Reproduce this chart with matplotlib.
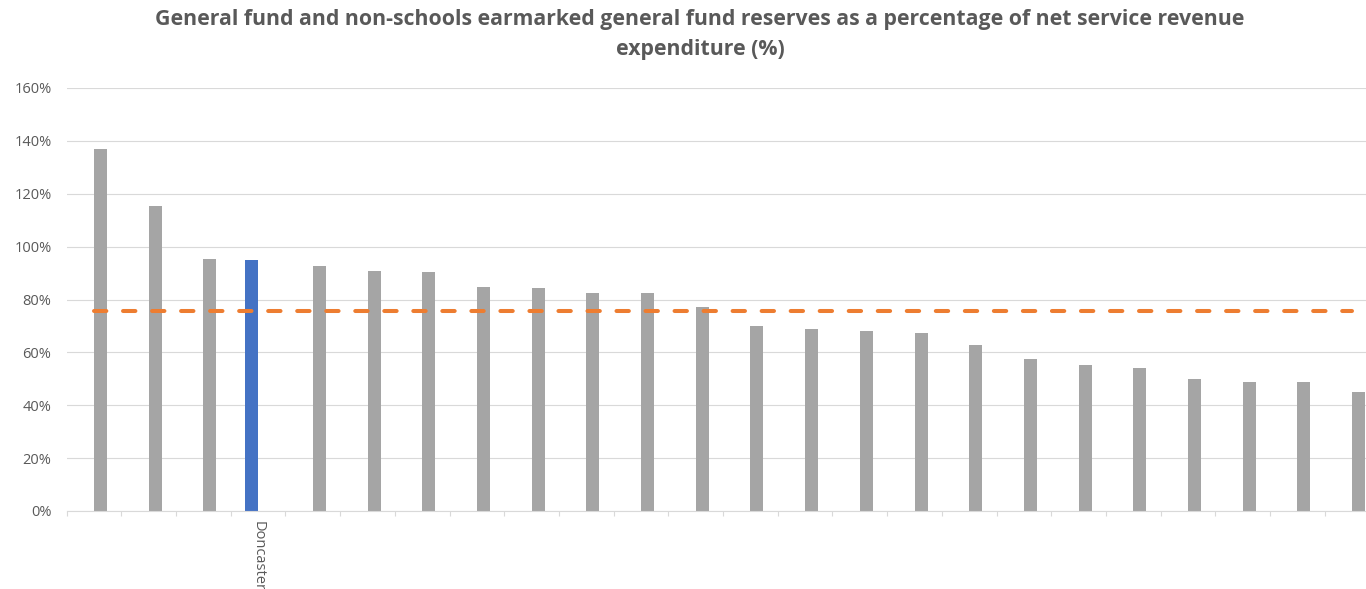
import matplotlib
matplotlib.use("Agg")
import matplotlib.pyplot as plt
import numpy as np

plt.rcParams['lines.scale_dashes'] = False

categories = ["", "", "", "Doncaster", "", "", "", "", "", "", "", "",
              "", "", "", "", "", "", "", "", "", "", "", ""]
other_councils = [137.0, 115.3, 95.4, 0, 92.7, 90.9, 90.3, 84.8, 84.2, 82.6, 82.6, 77.0,
                  70.0, 68.7, 68.2, 67.2, 62.8, 57.4, 55.1, 54.0, 50.0, 48.9, 48.9, 45.0]
doncaster = [0, 0, 0, 94.8, 0, 0, 0, 0, 0, 0, 0, 0,
             0, 0, 0, 0, 0, 0, 0, 0, 0, 0, 0, 0]
average = [75.6] * 24
yticks = [0, 20, 40, 60, 80, 100, 120, 140, 160]
title_lines = ["General fund and non-schools earmarked general fund reserves as a percentage of net service revenue",
               "expenditure (%)"]

W, H = 1366, 589
fig = plt.figure(figsize=(W / 100, H / 100), dpi=100)
left, right, bottom, top = 66.7, 1379.5, 511, 88
ax = fig.add_axes([left / W, 1 - bottom / H, (right - left) / W, (bottom - top) / H])

x = np.arange(len(categories))
bw = 0.238
off = 0.119
ax.bar(x + off, other_councils, width=bw, color='#A5A5A5', zorder=2)
ax.bar(x - off, doncaster, width=bw, color='#4472C4', zorder=2)
ln, = ax.plot(x, average, color='#ED7D31', lw=2.9, solid_capstyle='round',
              dash_capstyle='round', zorder=3)
ln.set_dashes((8.9, 12.0))

ax.set_xlim(-0.5, len(categories) - 0.5)
ax.set_ylim(0, 160)
ax.set_yticks(yticks)
ax.set_yticklabels([f"{v}%" for v in yticks])
ax.yaxis.grid(True, color='#D9D9D9', lw=0.8, zorder=0)
ax.set_axisbelow(True)
for s in ['top', 'right', 'left']:
    ax.spines[s].set_visible(False)
ax.spines['bottom'].set_color('#D9D9D9')
ax.spines['bottom'].set_linewidth(0.8)
ax.tick_params(axis='y', length=0, pad=11, labelsize=10.5, labelcolor='#595959')
for t in ax.get_yticklabels():
    t.set_fontfamily('Open Sans')

ax.set_xticks(x)
ax.set_xticklabels(categories, rotation=-90, fontsize=10.5, color='#595959', family='Open Sans')
ax.tick_params(axis='x', which='major', length=0, pad=7)
ax.set_xticks(np.arange(-0.5, len(categories), 1.0), minor=True)
ax.tick_params(axis='x', which='minor', length=3.6, width=0.8, color='#D9D9D9')

fig.text(700 / W, 1 - 20 / H, title_lines[0], ha='center', va='center', fontsize=15.3,
         fontweight='bold', color='#595959', family='Open Sans')
fig.text(700 / W, 1 - 50 / H, title_lines[1], ha='center', va='center', fontsize=15.3,
         fontweight='bold', color='#595959', family='Open Sans')

fig.savefig('out.png', dpi=100)
